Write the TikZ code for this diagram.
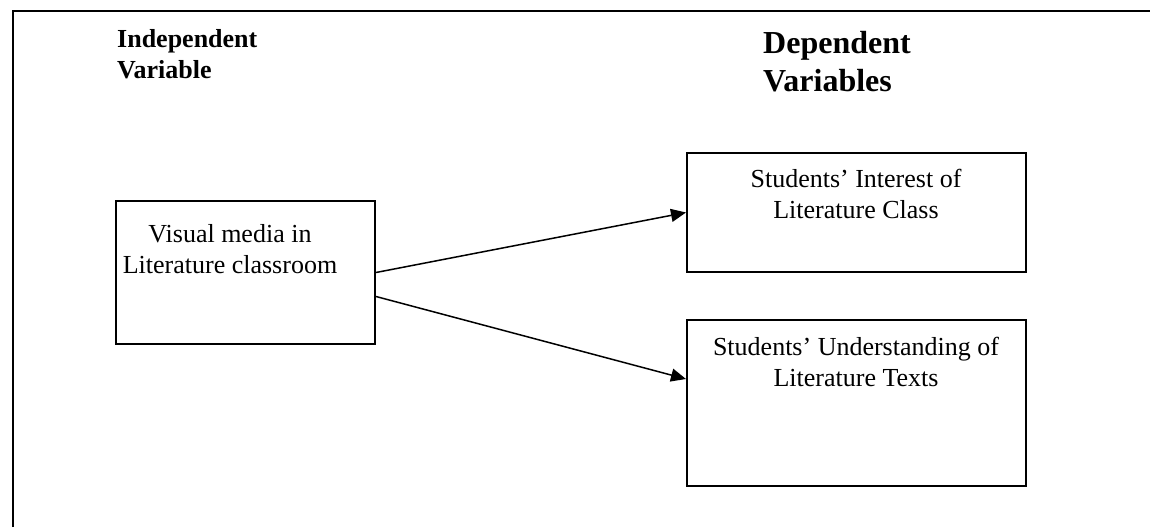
\documentclass[tikz,border=0pt]{standalone}
\usepackage{fontspec}
\setmainfont{Liberation Serif}
\usetikzlibrary{arrows.meta}
\begin{document}
\begin{tikzpicture}[x=1pt,y=-1pt,
 box/.style={draw, line width=2pt, inner sep=0pt, anchor=north west},
 txt/.style={font=\fontsize{26}{31}\selectfont, align=center, inner sep=0pt, anchor=north},
 head/.style={font=\fontsize{26}{31}\bfseries\selectfont, align=left, inner sep=0pt, anchor=north west},
 bighead/.style={font=\fontsize{32}{38}\bfseries\selectfont, align=left, inner sep=0pt, anchor=north west},
 conn/.style={line width=1.5pt, -{Triangle[length=15pt,width=13pt]}}]
\useasboundingbox (0,0) rectangle (1150,527);
\draw[line width=2pt] (13,527) -- (13,11) -- (1150,11);
\node[box, minimum width=259pt, minimum height=143pt] (lbox) at (115,200) {};
\node[box, minimum width=339pt, minimum height=119pt] (tbox) at (686,152) {};
\node[box, minimum width=339pt, minimum height=166pt] (bbox) at (686,319) {};
\node[head] (indep) at (117,29.5) {Independent\\Variable};
\node[bighead] (dep) at (763,31.5) {Dependent\\Variables};
\node[txt] (ltext) at (230,224) {Visual media in\\Literature classroom};
\node[txt] (ttext) at (856,169) {Students’ Interest of\\Literature Class};
\node[txt] (btext) at (856,337) {Students’ Understanding of\\Literature Texts};
\draw[conn] (lbox.east) -- (tbox.west);
\draw[conn] ([yshift=-24pt]lbox.east) -- ([yshift=24pt]bbox.west);
\end{tikzpicture}
\end{document}
